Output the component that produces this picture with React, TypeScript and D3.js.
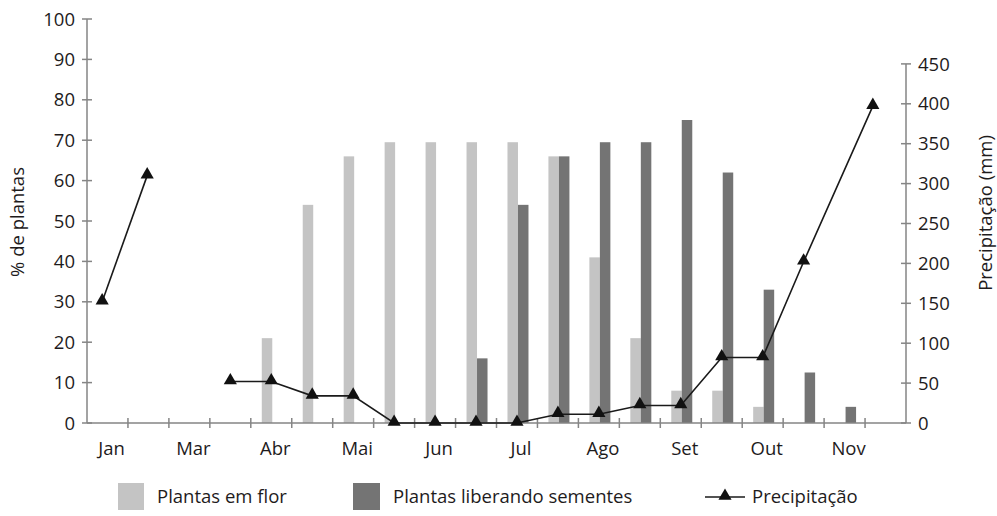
import React from "react";
import * as d3 from "d3";

const slots = d3.range(20);
const slotLabels = ["Jan", "", "Mar", "", "Abr", "", "Mai", "", "Jun", "", "Jul", "", "Ago", "", "Set", "", "Out", "", "Nov", ""];
const flowering = [0, 0, 0, 0, 21, 54, 66, 69.5, 69.5, 69.5, 69.5, 66, 41, 21, 8, 8, 4, 0, 0, 0];
const seeding = [0, 0, 0, 0, 0, 0, 0, 0, 0, 16, 54, 66, 69.5, 69.5, 75, 62, 33, 12.5, 4, 0];
const rainPeriod = [-0.13, 0.97, 3, 4, 5, 6, 7, 8, 9, 10, 11, 12, 13, 14, 15, 16, 17, 18.69];
const rainMm = [152, 310, 52, 52, 34, 34, 0, 0, 0, 0, 11, 11, 22, 22, 82, 82, 202, 397];
const leftTicks = d3.range(0, 101, 10);
const rightTicks = d3.range(0, 451, 50);

const W = 997, H = 516;
const X0 = 87, X1 = 906, Y0 = 423, Y100 = 19;
const LIGHT = "#c4c4c4", DARK = "#747474", AXIS = "#858585", TXT = "#1e1b1c";
const FONT = "'Open Sans', 'Noto Sans', sans-serif";
const FS = 18.5;

export default function App() {
  const xb = d3.scaleBand<number>().domain(slots).range([X0, X1]).paddingInner(0).paddingOuter(0);
  const xl = d3.scaleLinear().domain([0, 20]).range([X0, X1]);
  const yl = d3.scaleLinear().domain([0, 100]).range([Y0, Y100]);
  const yr = d3.scaleLinear().domain([0, 450]).range([Y0, Y0 - 450 * 0.798]);
  const bw = 10.5;
  const cx = (i: number) => (xb(i) as number) + xb.bandwidth() / 2 + 1;

  const rainPts: [number, number][] = rainPeriod.map((p, i) => [xl(p + 0.5), yr(rainMm[i])]);
  const seg1 = rainPts.slice(0, 2);
  const seg2 = rainPts.slice(2);
  const line = d3.line<[number, number]>();
  const tri = d3.symbol().type(d3.symbolTriangle).size(75)();

  return (
    <svg width={W} height={H} style={{ position: "absolute", left: 0, top: 0, background: "#fff" }} fontFamily={FONT}>
      {/* bars */}
      {slots.map((i) => (
        <g key={"b" + i}>
          {flowering[i] > 0 && (
            <rect x={cx(i) - bw} y={yl(flowering[i])} width={bw} height={Y0 - yl(flowering[i])} fill={LIGHT} />
          )}
          {seeding[i] > 0 && (
            <rect x={cx(i)} y={yl(seeding[i])} width={bw} height={Y0 - yl(seeding[i])} fill={DARK} />
          )}
        </g>
      ))}

      {/* axes */}
      <line x1={X0} x2={X0} y1={Y100} y2={Y0} stroke={AXIS} strokeWidth={1.5} />
      <line x1={X1} x2={X1} y1={yr(450)} y2={Y0} stroke={AXIS} strokeWidth={1.5} />
      <line x1={X0} x2={X1} y1={Y0} y2={Y0} stroke={AXIS} strokeWidth={1.5} />

      {leftTicks.map((t) => (
        <g key={"lt" + t}>
          <line x1={X0 - 5} x2={X0 + 5} y1={yl(t)} y2={yl(t)} stroke={AXIS} strokeWidth={1.5} />
          <text x={X0 - 12} y={yl(t)} dy="0.36em" textAnchor="end" fontSize={FS} fill={TXT}>{t}</text>
        </g>
      ))}
      {rightTicks.map((t) => (
        <g key={"rt" + t}>
          <line x1={X1 - 5} x2={X1 + 5} y1={yr(t)} y2={yr(t)} stroke={AXIS} strokeWidth={1.5} />
          <text x={X1 + 12} y={yr(t)} dy="0.36em" textAnchor="start" fontSize={FS} fill={TXT}>{t}</text>
        </g>
      ))}
      {slots.slice(1).map((i) => (
        <line key={"xt" + i} x1={xb(i) as number} x2={xb(i) as number} y1={Y0 - 5} y2={Y0 + 5} stroke={AXIS} strokeWidth={1.5} />
      ))}
      {slots.map((i) =>
        slotLabels[i] ? (
          <text key={"xl" + i} x={(xb(i) as number) + xb.bandwidth() / 2 + 4} y={455} textAnchor="middle" fontSize={FS} fill={TXT}>
            {slotLabels[i]}
          </text>
        ) : null
      )}

      <text transform={`translate(24,222) rotate(-90)`} textAnchor="middle" fontSize={FS} fill={TXT}>% de plantas</text>
      <text transform={`translate(992,213) rotate(-90)`} textAnchor="middle" fontSize={FS} fill={TXT}>Precipitação (mm)</text>

      {/* precipitation */}
      <path d={line(seg1) || ""} fill="none" stroke="#1a1a1a" strokeWidth={1.6} />
      <path d={line(seg2) || ""} fill="none" stroke="#1a1a1a" strokeWidth={1.6} />
      {rainPts.map((p, i) => (
        <path key={"m" + i} d={tri || ""} transform={`translate(${p[0]},${p[1] - 1})`} fill="#111" />
      ))}

      {/* legend */}
      <rect x={118} y={483} width={26} height={27} fill={LIGHT} />
      <text x={157} y={503} fontSize={FS} fill={TXT}>Plantas em flor</text>
      <rect x={353} y={483} width={27} height={27} fill={DARK} />
      <text x={393} y={503} fontSize={FS} fill={TXT}>Plantas liberando sementes</text>
      <line x1={705} x2={745} y1={497} y2={497} stroke="#1a1a1a" strokeWidth={1.6} />
      <path d={tri || ""} transform="translate(725,496)" fill="#111" />
      <text x={752} y={503} fontSize={FS} fill={TXT}>Precipitação</text>
    </svg>
  );
}
